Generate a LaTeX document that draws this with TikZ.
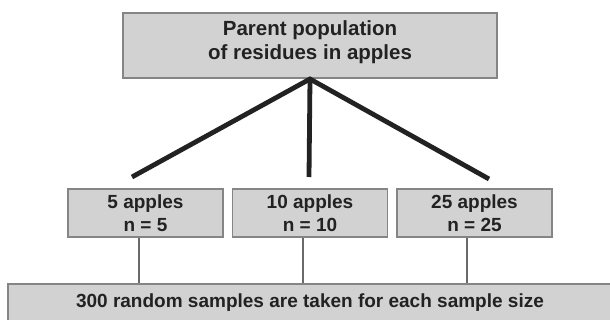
\documentclass[tikz,border=0pt]{standalone}
\usepackage{fontspec}
\setmainfont{Liberation Sans}
\begin{document}
\begin{tikzpicture}[x=1pt,y=-1pt,
  box/.style={draw=boxline,line width=1.8pt,fill=boxfill,text=txt,
    font=\fontsize{19}{22.5}\selectfont\bfseries,align=center,inner sep=0pt},
  toptxt/.style={text=txt,font=\fontsize{20.5}{23.5}\selectfont\bfseries,align=center,inner sep=0pt},
  thick/.style={draw=txt,line width=4.8pt},
  thin/.style={draw=thinline,line width=1.5pt}]
\definecolor{boxfill}{HTML}{D2D2D2}
\definecolor{boxline}{HTML}{858585}
\definecolor{txt}{HTML}{222222}
\definecolor{thinline}{HTML}{6A6A6A}
\useasboundingbox (0,0) rectangle (610,320);
\fill[white] (0,0) rectangle (610,320);
\node[box,minimum width=374pt,minimum height=65pt] (top) at (310,45.5) {};
\node[toptxt] (toplabel) at (310,42) {Parent population\\of residues in apples};
\node[box,minimum width=155pt,minimum height=48pt] (b1) at (145.5,213) {5 apples\\n = 5};
\node[box,minimum width=155pt,minimum height=48pt] (b2) at (310,213) {10 apples\\n = 10};
\node[box,minimum width=155pt,minimum height=48pt] (b3) at (474.5,213) {25 apples\\n = 25};
\node[box,minimum width=604pt,minimum height=38pt] (bot) at (310,303) {300 random samples are taken for each sample size};
\coordinate (apex) at (310,79);
\coordinate (e1) at (132,177);
\coordinate (e2) at (309,177);
\coordinate (e3) at (489,179);
\draw[thick] (e1) -- (apex) -- (e3);
\draw[thick] (apex) -- (e2);
\draw[thin] ([xshift=-6.5pt]b1.south) -- ([xshift=-6.5pt]b1.south |- bot.north);
\draw[thin] ([xshift=-7pt]b2.south) -- ([xshift=-7pt]b2.south |- bot.north);
\draw[thin] ([xshift=-7.5pt]b3.south) -- ([xshift=-7.5pt]b3.south |- bot.north);
\end{tikzpicture}
\end{document}
